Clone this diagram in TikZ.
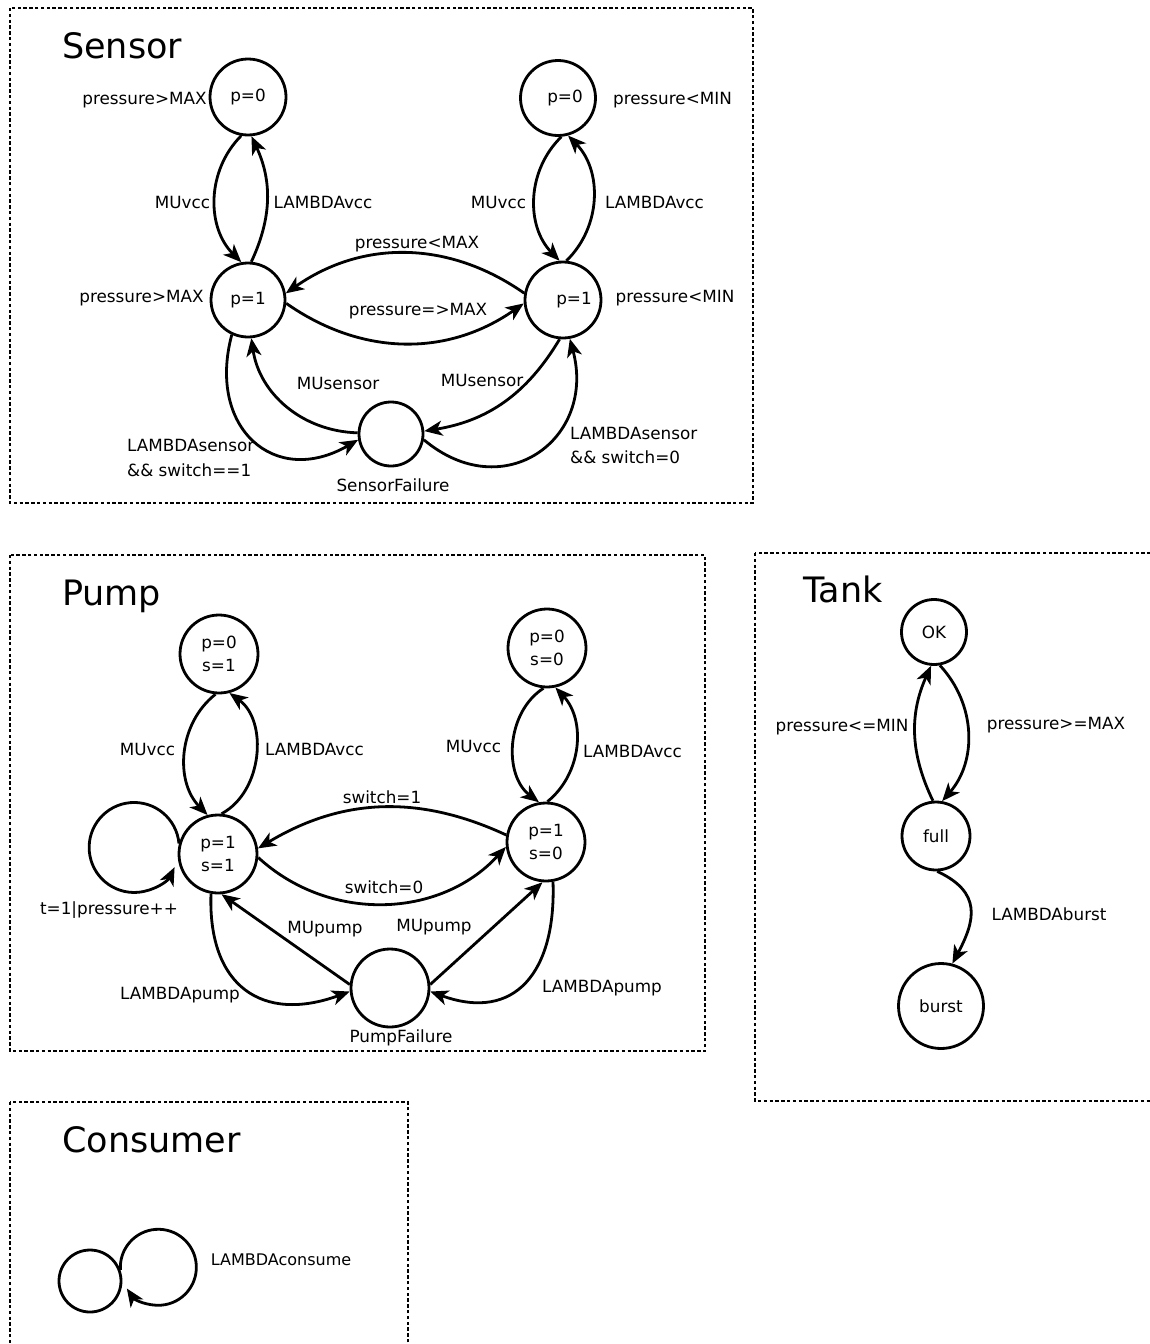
\documentclass[tikz,border=0pt]{standalone}
\usepackage{fontspec}
\setmainfont{DejaVu Sans}
\usetikzlibrary{arrows.meta}
\newcommand{\lblfont}{\fontsize{16.8}{23}\selectfont}
\newcommand{\titlefont}{\fontsize{35}{40}\selectfont}
\begin{document}
\begin{tikzpicture}[x=1pt,y=1pt,font=\lblfont,
  stnode/.style={circle, draw, line width=2.8pt, inner sep=0pt, align=center},
  trans/.style={line width=2.8pt, -{Stealth[length=18pt,width=15pt,inset=5pt]}},
  dotframe/.style={line width=2.8pt, dash pattern=on 3.4pt off 2.4pt},
  lbl/.style={inner sep=0pt},
  ttl/.style={inner sep=0pt, anchor=base west, font=\titlefont}]

\useasboundingbox (0,0) rectangle (1150,-1344);
\fill[white] (0,0) rectangle (1150,-1344);

% ---------------- frames ----------------
\draw[dotframe] (10,-8) rectangle (753,-503);
\draw[dotframe] (10,-555) rectangle (705,-1051);
\draw[dotframe] (755,-553) rectangle (1153,-1101);
\draw[dotframe] (10,-1102) rectangle (408,-1348);

% ---------------- Sensor ----------------
\node[ttl] (tSensor) at (62,-58) {Sensor};
\node[stnode, minimum size=76pt] (S0L) at (248,-97) {p=0};
\node[stnode, minimum size=74pt] (S1L) at (248,-300) {p=1};
\node[stnode, minimum size=75pt, label={[xshift=7pt]center:p=0}] (S0R) at (558,-98) {};
\node[stnode, minimum size=76pt, label={[xshift=11pt]center:p=1}] (S1R) at (563,-300) {};
\node[stnode, minimum size=64pt] (SF) at (391,-434) {};

\draw[trans] (S0L.-100) to[bend right=45] (S1L.100);
\draw[trans] (S1L.85) to[bend right=25] (S0L.-85);
\draw[trans] (S0R.-85) to[bend right=45] (S1R.95);
\draw[trans] (S1R.85) to[bend right=45] (S0R.-75);
\draw[trans] (S1R.170) to[bend right=35] (S1L.10);
\draw[trans] (S1L.-5) to[bend right=35] (S1R.185);
\draw[trans] (SF.178) to[bend left=40] (S1L.-85);
\draw[trans] (S1L.-115) to[out=-105, in=210, looseness=1.5] (SF.190);
\draw[trans] (S1R.-95) to[bend left=25] (SF.5);
\draw[trans] (SF.-10) to[out=-40, in=-75, looseness=1.5] (S1R.-80);

\node[lbl] (sa) at (144.5,-100) {pressure>MAX};
\node[lbl] (sb) at (141.5,-298) {pressure>MAX};
\node[lbl] (sc) at (182.5,-202) {MUvcc};
\node[lbl] (sd) at (323,-202) {LAMBDAvcc};
\node[lbl] (se) at (672.5,-100) {pressure<MIN};
\node[lbl] (sf) at (498.5,-202) {MUvcc};
\node[lbl] (sg) at (654.5,-202) {LAMBDAvcc};
\node[lbl] (sh) at (675,-298) {pressure<MIN};
\node[lbl] (si) at (417,-244) {pressure<MAX};
\node[lbl] (sj) at (418,-311) {pressure=>MAX};
\node[lbl] (sk) at (338,-383) {MUsensor};
\node[lbl] (sl) at (482,-380) {MUsensor};
\node[lbl, anchor=west, align=left, font=\fontsize{16.8}{25}\selectfont] (sm) at (127,-457.5) {LAMBDAsensor\\\&\& switch==1};
\node[lbl, anchor=west, align=left, font=\fontsize{16.8}{24}\selectfont] (sn) at (570,-445) {LAMBDAsensor\\\&\& switch=0};
\node[lbl] (so) at (393,-485) {SensorFailure};

% ---------------- Pump ----------------
\node[ttl] (tPump) at (62,-605) {Pump};
\node[stnode, minimum size=78pt] (P0L) at (219,-654) {p=0\\s=1};
\node[stnode, minimum size=78pt] (P1L) at (218,-854) {p=1\\s=1};
\node[stnode, minimum size=78pt] (P0R) at (547,-648) {p=0\\s=0};
\node[stnode, minimum size=78pt] (P1R) at (546,-842) {p=1\\s=0};
\node[stnode, minimum size=78pt] (PF) at (390,-988) {};

\draw[trans] (P0L.-95) to[bend right=48] (P1L.105);
\draw[trans] (P1L.85) to[bend right=58] (P0L.-75);
\draw[trans] (P0R.-95) to[bend right=55] (P1R.100);
\draw[trans] (P1R.88) to[bend right=47] (P0R.-78);
\draw[trans] (P1R.170) to[bend right=28] (P1L.8);
\draw[trans] (P1L.-5) to[bend right=45] (P1R.187);
\draw[trans] (PF.175) -- (P1L.-85);
\draw[trans] (P1L.-100) to[out=-92, in=200, looseness=1.4] (PF.185);
\draw[trans] (PF.5) -- (P1R.-95);
\draw[trans] (P1R.-80) to[out=-88, in=-20, looseness=1.4] (PF.-5);
\draw[trans] (P1L.165) arc[start angle=5, end angle=334, radius=45];

\node[lbl] (pa) at (147.5,-749) {MUvcc};
\node[lbl] (pb) at (314.5,-749) {LAMBDAvcc};
\node[lbl] (pc) at (473.5,-746) {MUvcc};
\node[lbl] (pd) at (632.5,-751) {LAMBDAvcc};
\node[lbl] (pe) at (382,-797) {switch=1};
\node[lbl] (pf) at (384,-887) {switch=0};
\node[lbl] (pg) at (109,-910) {t=1|pressure++};
\node[lbl] (ph) at (325,-929) {MUpump};
\node[lbl] (pi) at (434,-927) {MUpump};
\node[lbl] (pj) at (180,-995) {LAMBDApump};
\node[lbl] (pk) at (602,-988) {LAMBDApump};
\node[lbl] (pl) at (401,-1038) {PumpFailure};

% ---------------- Tank ----------------
\node[ttl] (tTank) at (803,-602) {Tank};
\node[stnode, minimum size=65pt] (OK) at (934,-632) {OK};
\node[stnode, minimum size=68pt] (full) at (936,-836) {full};
\node[stnode, minimum size=85pt] (burst) at (941,-1006) {burst};

\draw[trans] (full.95) to[bend left=25] (OK.-95);
\draw[trans] (OK.-80) to[bend left=42] (full.80);
\draw[trans] (full.-88) to[out=-25, in=62, looseness=1.35] (burst.75);

\node[lbl] (ta) at (842,-727) {pressure<=MIN};
\node[lbl] (tb) at (1056,-725) {pressure>=MAX};
\node[lbl] (tc) at (1049,-914) {LAMBDAburst};

% ---------------- Consumer ----------------
\node[ttl] (tCons) at (62,-1152) {Consumer};
\node[stnode, minimum size=62pt] (C) at (90,-1281) {};
\draw[trans] (C.20) arc[start angle=184, end angle=-146, radius=38];
\node[lbl, font=\fontsize{16}{20}\selectfont] (ca) at (281,-1260) {LAMBDAconsume};

\end{tikzpicture}
\end{document}
